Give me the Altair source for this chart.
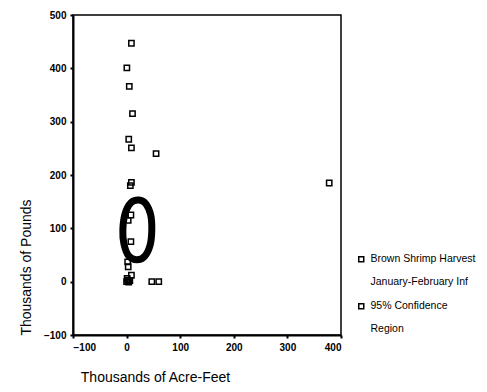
import altair as alt
import pandas as pd

# Scatter: Brown Shrimp Harvest (thousands of pounds) vs inflow (thousands of acre-feet)
harvest_x = [9, 0.5, 5, 11, 4, 9, 55, 9, 7, 378, 8, 3, 8, 2, 3, 9, 0, 2, 4, 6, 1, 47, 60]
harvest_y = [447, 401, 366, 315, 267, 251, 240, 186, 180, 185, 125, 115, 75, 37, 28, 12, 0, 3, -1, 2, 6, 0, 0]

# 95% confidence region outline
ellipse_x = [23, 36, 45, 47, 44, 34, 19, 4, -5, -7, -3, 8]
ellipse_y = [153, 146, 125, 97, 69, 48, 41, 48, 71, 97, 127, 148]

legend_labels = ["Brown Shrimp Harvest", "January-February Inf", "95% Confidence", "Region"]
legend_shapes = ["square", "M0,0L0,0", "square", "M0,0L0,0"]

x_ticks = [-100, 0, 100, 200, 300, 400]
y_ticks = [-100, 0, 100, 200, 300, 400, 500]

FONT = "Liberation Sans"

pts = pd.DataFrame({"x": harvest_x, "y": harvest_y, "series": legend_labels[0]})
ell = pd.DataFrame({"x": ellipse_x, "y": ellipse_y, "i": list(range(len(ellipse_x)))})

xscale = alt.Scale(domain=[-100, 400], nice=False, zero=False)
yscale = alt.Scale(domain=[-100, 500], nice=False, zero=False)

xaxis = alt.Axis(values=x_ticks, title="Thousands of Acre-Feet", grid=False,
                 titleX=82, titleY=42, titleAlign="center", titleBaseline="middle",
                 titleFontSize=14, titleFontWeight="normal", titleFont=FONT,
                 labelFont=FONT, labelFontSize=10, labelFontWeight="bold",
                 labelPadding=4, tickSize=3, tickWidth=2, domainWidth=2,
                 domainColor="black", tickColor="black", labelColor="black",
                 titleColor="black")
yaxis = alt.Axis(values=y_ticks, title="Thousands of Pounds", grid=False,
                 titleX=-47, titleY=252, titleAlign="center", titleBaseline="middle",
                 titleAngle=-90,
                 titleFontSize=14, titleFontWeight="normal", titleFont=FONT,
                 labelFont=FONT, labelFontSize=10, labelFontWeight="bold",
                 labelPadding=4, tickSize=3, tickWidth=2, domainWidth=2,
                 domainColor="black", tickColor="black", labelColor="black",
                 titleColor="black")

points = alt.Chart(pts).mark_point(
    shape="square", filled=False, color="black", size=28, strokeWidth=1.5, opacity=1
).encode(
    x=alt.X("x:Q", scale=xscale, axis=xaxis),
    y=alt.Y("y:Q", scale=yscale, axis=yaxis),
    shape=alt.Shape("series:N",
                    scale=alt.Scale(domain=legend_labels, range=legend_shapes),
                    legend=alt.Legend(title=None, orient="none", legendX=283, legendY=239,
                                      padding=0, rowPadding=12, labelOffset=4,
                                      labelFont=FONT, labelFontSize=10.5,
                                      labelColor="black", symbolSize=25,
                                      symbolStrokeWidth=1.5, symbolStrokeColor="black",
                                      symbolFillColor="transparent", labelLimit=200)),
)

ellipse = alt.Chart(ell).mark_line(
    color="black", strokeWidth=7, interpolate="cardinal-closed"
).encode(
    x=alt.X("x:Q", scale=xscale),
    y=alt.Y("y:Q", scale=yscale),
    order="i:Q",
)

chart = alt.layer(points, ellipse).properties(
    width=268, height=320,
    background="white",
    autosize=alt.AutoSizeParams(type="none"),
    padding={"left": 65, "top": 7, "right": 138, "bottom": 52},
).configure_view(stroke="black", strokeWidth=1.5)

chart.save("out.html", embed_options={"renderer": "svg", "actions": False})
